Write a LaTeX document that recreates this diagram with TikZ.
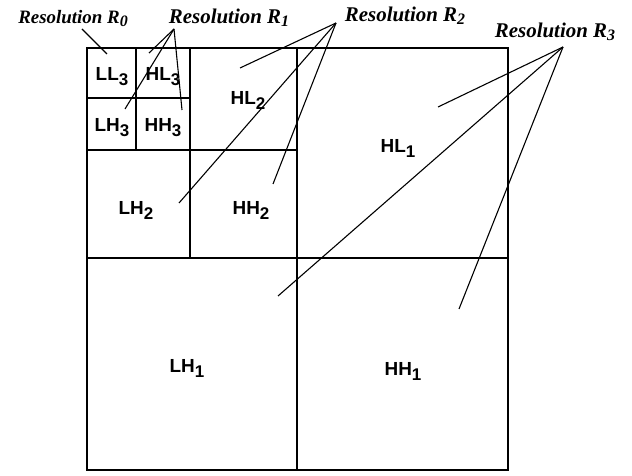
\documentclass[tikz,border=0pt]{standalone}
\usepackage{fontspec}
\setmainfont{Liberation Serif}
\newfontfamily\cellfont{Liberation Sans}
\newcommand\csub[1]{\raisebox{-5bp}{\fontsize{17}{17}\selectfont #1}}
\newcommand\tsub[1]{\raisebox{-3bp}{\fontsize{16}{16}\selectfont #1}}
\begin{document}
\begin{tikzpicture}[x=1bp,y=-1bp,
  grid/.style={line width=1.4bp},
  leader/.style={line width=1.1bp},
  title/.style={font=\fontsize{21}{23}\selectfont\bfseries\itshape, inner sep=0, anchor=base},
  title0/.style={title, font=\fontsize{19}{21}\selectfont\bfseries\itshape},
  cell/.style={font=\cellfont\fontsize{19}{21}\selectfont\bfseries, inner sep=0}]
\useasboundingbox (0,0) rectangle (632,476);
% grid
\draw[grid] (87,48) rectangle (508,470);
\draw[grid] (297,48) -- (297,470);
\draw[grid] (87,258) -- (508,258);
\draw[grid] (190,48) -- (190,258);
\draw[grid] (87,150) -- (297,150);
\draw[grid] (136,48) -- (136,150);
\draw[grid] (87,98) -- (190,98);
% cell labels
\node[cell] (ll3) at (112,77) {LL\csub{3}};
\node[cell] (hl3) at (163,77) {HL\csub{3}};
\node[cell] (lh3) at (112,128) {LH\csub{3}};
\node[cell] (hh3) at (163,128) {HH\csub{3}};
\node[cell] (hl2) at (248,100) {HL\csub{2}};
\node[cell] (lh2) at (136,210) {LH\csub{2}};
\node[cell] (hh2) at (251,210) {HH\csub{2}};
\node[cell] (hl1) at (398,148) {HL\csub{1}};
\node[cell] (lh1) at (187,368) {LH\csub{1}};
\node[cell] (hh1) at (403,371) {HH\csub{1}};
% titles
\node[title0] (r0) at (73,24) {Resolution R\tsub{0}};
\node[title] (r1) at (229,24) {Resolution R\tsub{1}};
\node[title] (r2) at (405,22) {Resolution R\tsub{2}};
\node[title] (r3) at (555,38) {Resolution R\tsub{3}};
% leader apexes and ends
\coordinate (a0) at (82,29);
\coordinate (a1) at (174,29);
\coordinate (a2) at (336,23);
\coordinate (a3) at (563,47);
\coordinate (e0) at (107,54);
\coordinate (e1a) at (149,53);
\coordinate (e1b) at (125,109);
\coordinate (e1c) at (182,110);
\coordinate (e2a) at (240,68);
\coordinate (e2b) at (179,203);
\coordinate (e2c) at (273,184);
\coordinate (e3a) at (438,107);
\coordinate (e3b) at (278,296);
\coordinate (e3c) at (459,309);
\draw[leader] (a0) -- (e0);
\draw[leader] (a1) -- (e1a);
\draw[leader] (a1) -- (e1b);
\draw[leader] (a1) -- (e1c);
\draw[leader] (a2) -- (e2a);
\draw[leader] (a2) -- (e2b);
\draw[leader] (a2) -- (e2c);
\draw[leader] (a3) -- (e3a);
\draw[leader] (a3) -- (e3b);
\draw[leader] (a3) -- (e3c);
\end{tikzpicture}
\end{document}
